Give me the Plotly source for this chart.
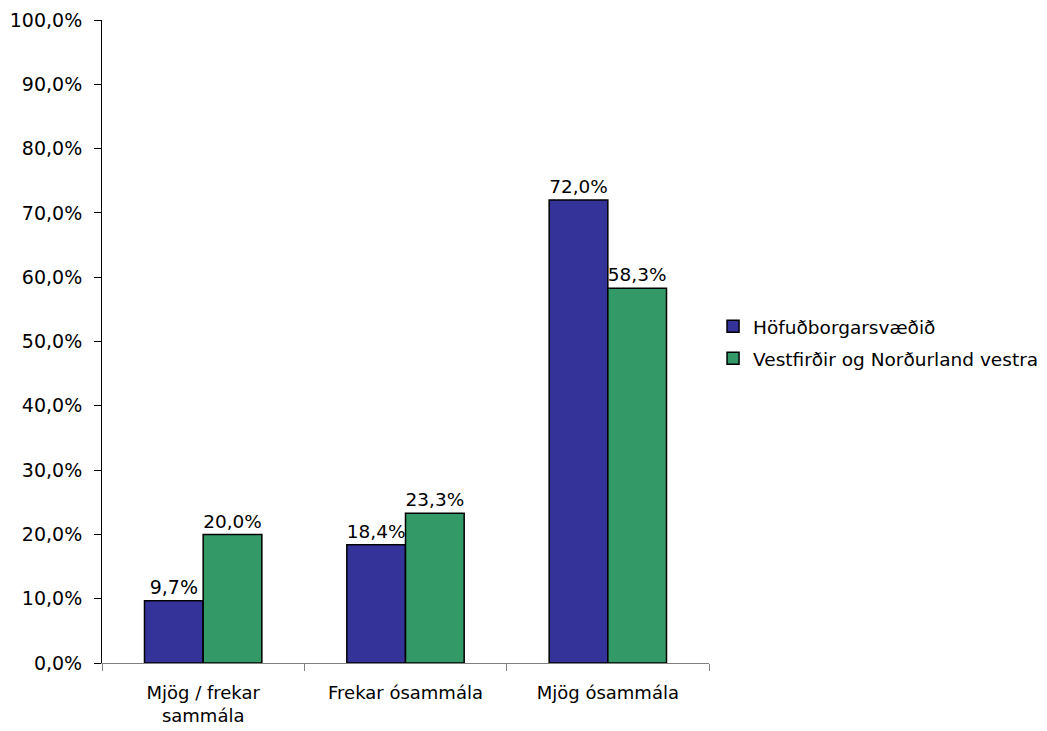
import plotly.graph_objects as go

categories = ["Mjög / frekar<br>sammála", "Frekar ósammála", "Mjög ósammála"]
series_names = ["Höfuðborgarsvæðið", "Vestfirðir og Norðurland vestra"]
hofud = [0.097, 0.184, 0.720]
vest = [0.200, 0.233, 0.583]
colors = ["#333399", "#339966"]

def fmt(v):
    return f"{v*100:.1f}%".replace(".", ",")

fig = go.Figure()
for i, (name, vals, col) in enumerate(zip(series_names, [hofud, vest], colors)):
    fig.add_trace(go.Bar(
        x=categories, y=vals, name=name, legendgroup=f"g{i}",
        marker=dict(color=col, line=dict(color="black", width=1.5)),
        text=[fmt(v) for v in vals], textposition="outside",
        textfont=dict(size=19, color="black"),
        cliponaxis=False,
    ))

fig.update_layout(
    width=1047, height=731,
    separators=",.",
    paper_bgcolor="white", plot_bgcolor="white",
    font=dict(family="DejaVu Sans", size=18, color="black"),
    margin=dict(l=94, r=345, t=12, b=76),
    barmode="group", bargap=0.42, bargroupgap=0,
    showlegend=True,
    legend=dict(x=1.005, y=0.498, xanchor="left", yanchor="middle",
                font=dict(size=18.5), bgcolor="rgba(0,0,0,0)",
                itemwidth=30, tracegroupgap=5),
)
fig.update_yaxes(range=[0, 1], dtick=0.1, tickformat=".1%",
                 showgrid=False, zeroline=False, automargin=False,
                 showline=True, linecolor="black", linewidth=1,
                 ticks="outside", ticklen=7, tickcolor="black",
                 tickfont=dict(size=19), ticklabelstandoff=8)
fig.update_xaxes(showgrid=False, showline=True, linecolor="#808080", linewidth=1,
                 ticks="outside", ticklen=7, tickcolor="#808080", automargin=False,
                 tickson="boundaries", tickfont=dict(size=18),
                 ticklabelstandoff=13)

fig.write_html("out.html")
